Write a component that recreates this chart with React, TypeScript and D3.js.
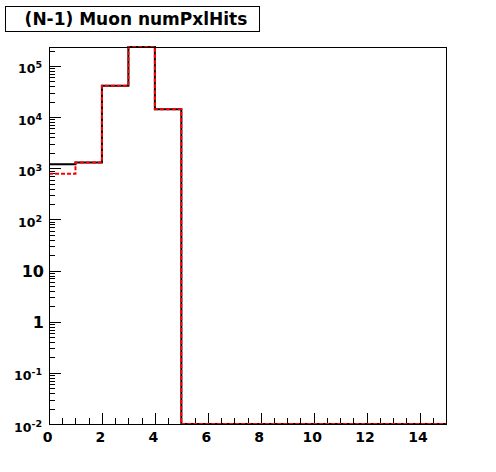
import React, { useRef, useEffect } from 'react';
import * as d3 from 'd3';

// bin low edges (unit bins 0..15)
const binEdges = [0, 1, 2, 3, 4, 5, 6, 7, 8, 9, 10, 11, 12, 13, 14, 15];
const blackCounts = [1200, 1290, 41200, 235000, 14200, 0, 0, 0, 0, 0, 0, 0, 0, 0, 0];
const redCounts = [780, 1290, 41200, 235000, 14200, 0, 0, 0, 0, 0, 0, 0, 0, 0, 0];
const xTicks = [0, 2, 4, 6, 8, 10, 12, 14];
const yDecades = [-2, -1, 0, 1, 2, 3, 4, 5];
const titleText = '(N-1) Muon numPxlHits';

const App = () => {
  const svgRef = useRef();
  useEffect(() => {
    const W = 496, H = 472;
    const left = 49, right = 446, top = 47, bottom = 424;
    const font = '"DejaVu Sans", Verdana, sans-serif';
    const svg = d3.select(svgRef.current).attr('width', W).attr('height', H);
    svg.selectAll('*').remove();
    svg.append('rect').attr('width', W).attr('height', H).attr('fill', 'white');

    const x = d3.scaleLinear().domain([0, 15]).range([left, right]);
    const y = d3.scaleLog().domain([0.01, 235000]).range([bottom, top]).clamp(true);

    // ticks on x
    const g = svg.append('g');
    d3.range(0, 15.01, 0.5).forEach(v => {
      const major = v % 2 === 0;
      g.append('line')
        .attr('x1', Math.round(x(v)) + 0.5).attr('x2', Math.round(x(v)) + 0.5)
        .attr('y1', bottom).attr('y2', bottom - (major ? 11 : 6))
        .attr('stroke', 'black').attr('stroke-width', 1);
    });
    xTicks.forEach(v => {
      g.append('text')
        .attr('x', x(v) - 1.5).attr('y', 442)
        .attr('text-anchor', 'middle')
        .attr('font-family', font).attr('font-weight', 'bold').attr('font-size', 14)
        .text(v);
    });

    // ticks on y (log)
    yDecades.forEach(d => {
      for (let k = 1; k <= 9; k++) {
        const v = k * Math.pow(10, d);
        if (v < 0.01 - 1e-9 || v > 235000) continue;
        g.append('line')
          .attr('x1', left).attr('x2', left + (k === 1 ? 12 : 6))
          .attr('y1', Math.round(y(v)) + 0.5).attr('y2', Math.round(y(v)) + 0.5)
          .attr('stroke', 'black').attr('stroke-width', 1);
      }
      const ty = y(Math.pow(10, d));
      if (d === 0 || d === 1) {
        g.append('text')
          .attr('x', 44).attr('y', ty + 6)
          .attr('text-anchor', 'end')
          .attr('font-family', font).attr('font-weight', 'bold').attr('font-size', 16)
          .text(d === 0 ? '1' : '10');
      } else {
        const t = g.append('text')
          .attr('x', 42).attr('y', ty + 7.5)
          .attr('text-anchor', 'end')
          .attr('font-family', font).attr('font-weight', 'bold').attr('font-size', 12.5);
        t.append('tspan').text('10');
        t.append('tspan').attr('dy', -5).attr('font-size', 9.5).text(String(d));
      }
    });

    // histograms
    const stepLine = d3.line()
      .x(d => x(d[0]))
      .y(d => y(Math.max(d[1], 0.01)))
      .curve(d3.curveStepAfter);
    const pts = counts => {
      const p = counts.map((c, i) => [binEdges[i], c]);
      p.push([binEdges[binEdges.length - 1], counts[counts.length - 1]]);
      return p;
    };
    svg.append('path')
      .attr('d', stepLine(pts(blackCounts)))
      .attr('fill', 'none').attr('stroke', 'black').attr('stroke-width', 2);
    svg.append('path')
      .attr('d', stepLine(pts(redCounts)))
      .attr('fill', 'none').attr('stroke', '#ff0000').attr('stroke-width', 2)
      .attr('stroke-dasharray', '4,2');

    // frame
    svg.append('rect')
      .attr('x', left + 0.5).attr('y', top + 0.5)
      .attr('width', right - left).attr('height', bottom - top)
      .attr('fill', 'none').attr('stroke', 'black').attr('stroke-width', 1);

    // title box
    svg.append('rect')
      .attr('x', 5.5).attr('y', 6.5).attr('width', 254).attr('height', 25)
      .attr('fill', 'white').attr('stroke', 'black').attr('stroke-width', 1);
    svg.append('text')
      .attr('x', 136).attr('y', 25)
      .attr('text-anchor', 'middle')
      .attr('font-family', font).attr('font-weight', 'bold').attr('font-size', 17)
      .text(titleText);
  }, []);
  return <svg ref={svgRef} style={{ position: 'absolute', left: 0, top: 0 }}></svg>;
};
export default App;
